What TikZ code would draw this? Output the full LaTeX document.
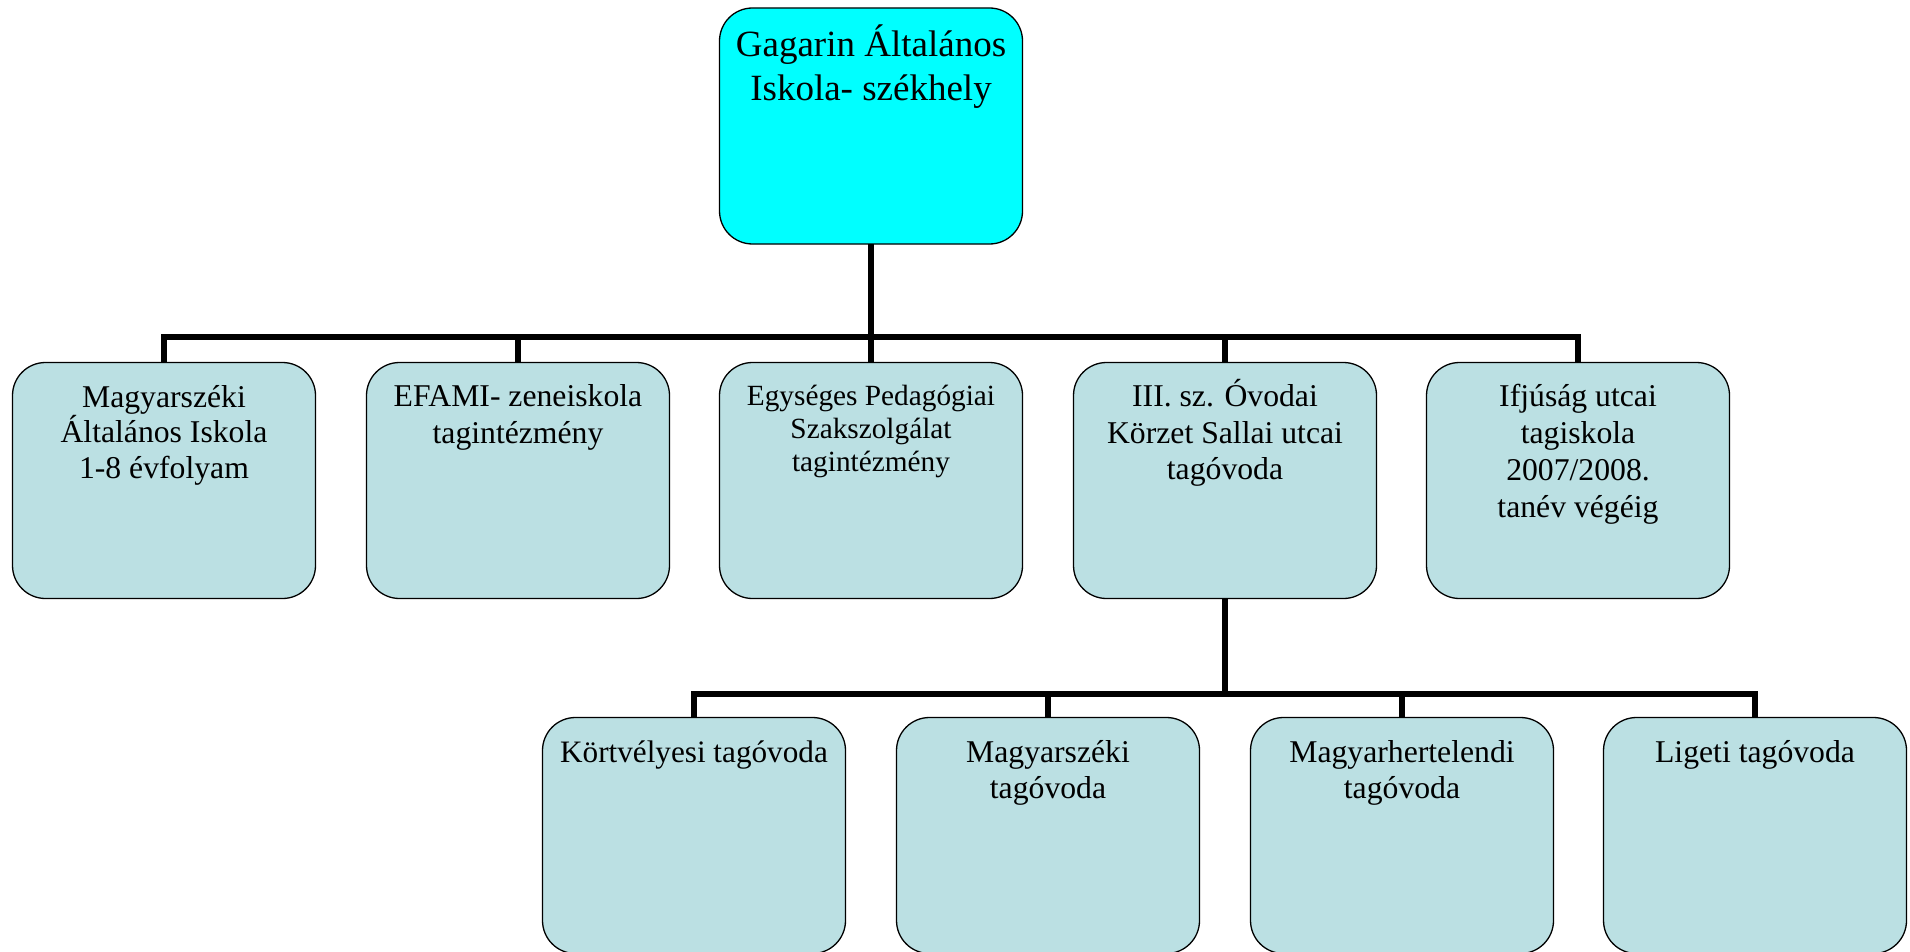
\documentclass[tikz,border=0pt]{standalone}
\usepackage{fontspec}
\setmainfont{Liberation Serif}
\definecolor{topfill}{HTML}{00FFFF}
\definecolor{boxfill}{HTML}{BBE0E3}
\newcommand{\boxtxt}[4]{\begin{minipage}[c][236pt][t]{303pt}\centering\fontsize{#1}{#2}\selectfont\rule{0pt}{#3}#4\end{minipage}}
\tikzset{
  obox/.style={draw=black, line width=1.3pt, rounded corners=33pt, inner sep=0pt, outer sep=0pt, fill=boxfill},
  conn/.style={draw=black, line width=6pt, line join=miter}
}
\begin{document}
\begin{tikzpicture}[x=1pt,y=-1pt]
\useasboundingbox (0,0) rectangle (1910,952);
% top
\node[obox, fill=topfill] (top) at (871,126) {\boxtxt{37pt}{44.5pt}{48.5pt}{Gagarin Általános\\Iskola- székhely}};
% row 1
\node[obox] (b1) at (164,480.5) {\boxtxt{31.7pt}{35.5pt}{44.5pt}{Magyarszéki\\Általános Iskola\\1-8 évfolyam}};
\node[obox] (b2) at (518,480.5) {\boxtxt{31.7pt}{36.5pt}{44pt}{EFAMI- zeneiskola\\tagintézmény}};
\node[obox] (b3) at (871,480.5) {\boxtxt{29.3pt}{33pt}{43pt}{Egységes Pedagógiai\\Szakszolgálat\\tagintézmény}};
\node[obox] (b4) at (1225,480.5) {\boxtxt{31.7pt}{36.5pt}{44pt}{III. sz. Óvodai\\Körzet Sallai utcai\\tagóvoda}};
\node[obox] (b5) at (1578,480.5) {\boxtxt{31.7pt}{37pt}{44pt}{Ifjúság utcai\\tagiskola\\2007/2008.\\tanév végéig}};
% row 2
\node[obox] (c1) at (694,835.5) {\boxtxt{31.2pt}{36.5pt}{44.5pt}{Körtvélyesi tagóvoda}};
\node[obox] (c2) at (1048,835.5) {\boxtxt{31.7pt}{36.5pt}{44.5pt}{Magyarszéki\\tagóvoda}};
\node[obox] (c3) at (1402,835.5) {\boxtxt{31.7pt}{36.5pt}{44.5pt}{Magyarhertelendi\\tagóvoda}};
\node[obox] (c4) at (1755,835.5) {\boxtxt{31.7pt}{36.5pt}{44.5pt}{Ligeti tagóvoda}};
% junctions
\coordinate (j1) at (871,337);
\coordinate (j2) at (1225,694);
% connectors level 1
\draw[conn] (top.south) -- (j1);
\draw[conn] (b1.north) -- (b1.north |- j1) -- (b5.north |- j1) -- (b5.north);
\draw[conn] (b2.north) -- (b2.north |- j1);
\draw[conn] (b3.north) -- (b3.north |- j1);
\draw[conn] (b4.north) -- (b4.north |- j1);
% connectors level 2
\draw[conn] (b4.south) -- (j2);
\draw[conn] (c1.north) -- (c1.north |- j2) -- (c4.north |- j2) -- (c4.north);
\draw[conn] (c2.north) -- (c2.north |- j2);
\draw[conn] (c3.north) -- (c3.north |- j2);
\end{tikzpicture}
\end{document}
